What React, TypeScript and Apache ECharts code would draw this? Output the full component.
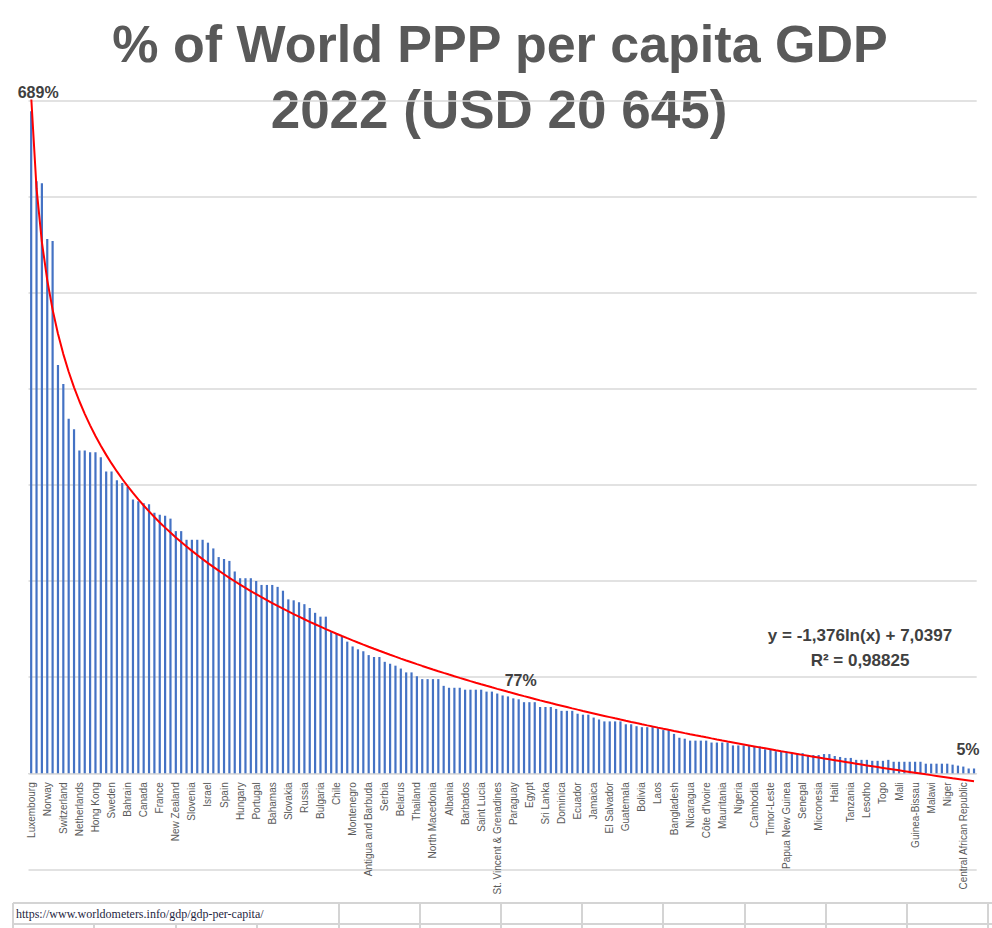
import React, { useEffect, useRef } from "react";
import * as echarts from "echarts";

const countries: string[] = [
  "Luxembourg", "Singapore", "Ireland", "Norway", "Qatar", "United States", "Switzerland", "Brunei", "Denmark",
  "Netherlands", "Iceland", "Austria", "Hong Kong", "Belgium", "Germany", "Sweden", "Australia", "Finland",
  "Bahrain", "Saudi Arabia", "Malta", "Canada", "Oman", "United Kingdom", "France", "South Korea", "Japan",
  "New Zealand", "Italy", "Cyprus", "Slovenia", "Czech Republic", "Lithuania", "Israel", "Estonia", "Puerto Rico",
  "Spain", "Poland", "Kuwait", "Hungary", "Latvia", "Croatia", "Portugal", "Romania", "Greece",
  "Bahamas", "Seychelles", "Turkey", "Slovakia", "Panama", "Kazakhstan", "Russia", "Malaysia", "Uruguay",
  "Bulgaria", "Mauritius", "Argentina", "Chile", "Trinidad and Tobago", "Maldives", "Montenegro", "Costa Rica", "Dominican Republic",
  "Antigua and Barbuda", "Mexico", "Georgia", "Serbia", "China", "Turkmenistan", "Belarus", "Botswana", "Azerbaijan",
  "Thailand", "Armenia", "Gabon", "North Macedonia", "Brazil", "Colombia", "Albania", "Saint Kitts and Nevis", "Grenada",
  "Barbados", "Bosnia and Herzegovina", "Moldova", "Saint Lucia", "Iran", "Iraq", "St. Vincent & Grenadines", "Peru", "Indonesia",
  "Paraguay", "South Africa", "Mongolia", "Egypt", "Suriname", "Ukraine", "Sri Lanka", "Libya", "Equatorial Guinea",
  "Dominica", "Algeria", "Tunisia", "Ecuador", "Vietnam", "Fiji", "Jamaica", "Guyana", "Belize",
  "El Salvador", "Jordan", "Namibia", "Guatemala", "Eswatini", "Uzbekistan", "Bolivia", "Philippines", "Morocco",
  "Laos", "India", "Bhutan", "Bangladesh", "Cabo Verde", "Ghana", "Nicaragua", "Angola", "Samoa",
  "Côte d'Ivoire", "Kyrgyzstan", "Honduras", "Mauritania", "Tonga", "Pakistan", "Nigeria", "Kenya", "Djibouti",
  "Cambodia", "Myanmar", "Nepal", "Timor-Leste", "Cameroon", "Zambia", "Papua New Guinea", "Benin", "Tajikistan",
  "Senegal", "Guinea", "Tuvalu", "Micronesia", "Uganda", "Zimbabwe", "Haiti", "Ethiopia", "Rwanda",
  "Tanzania", "Gambia", "Burkina Faso", "Lesotho", "Kiribati", "Vanuatu", "Togo", "Sudan", "Yemen",
  "Mali", "Solomon Islands", "Madagascar", "Guinea-Bissau", "Chad", "Sierra Leone", "Malawi", "Liberia", "Mozambique",
  "Niger", "Congo, Dem. Rep.", "Somalia", "Central African Republic", "South Sudan", "Burundi",
];

// % of world PPP GDP per capita
const shareOfWorld: number[] = [
  689, 616, 614, 556, 554, 425, 405, 369, 358,
  336, 336, 334, 334, 329, 314, 314, 305, 302,
  298, 285, 283, 281, 280, 271, 269, 268, 265,
  252, 252, 243, 243, 243, 243, 240, 234, 225,
  223, 221, 210, 203, 203, 203, 200, 196, 196,
  196, 194, 190, 181, 180, 178, 176, 172, 167,
  163, 163, 147, 146, 142, 137, 132, 129, 127,
  123, 121, 121, 116, 114, 112, 109, 105, 105,
  101, 98, 98, 98, 98, 91, 89, 89, 89,
  87, 87, 87, 87, 85, 85, 83, 81, 80,
  78, 77, 74, 74, 74, 69, 69, 69, 67,
  65, 65, 65, 62, 61, 61, 58, 56, 54,
  54, 54, 54, 51, 51, 49, 48, 48, 48,
  47, 45, 45, 41, 37, 36, 34, 34, 34,
  34, 32, 32, 32, 32, 29, 29, 29, 29,
  28, 28, 25, 25, 23, 23, 23, 21, 21,
  21, 19, 19, 19, 20, 20, 18, 17, 16,
  16, 14, 14, 14, 13, 13, 13, 14, 12,
  12, 12, 12, 12, 12, 10, 10, 10, 10,
  10, 9, 8, 7, 5, 5,
];

const labeledBars: number[] = [0, 91, 176];

// Excel logarithmic trend line shown on the chart: y = -1,376 ln(x) + 7,0397
const trendA = -1.376;
const trendB = 7.0397;
const trendText = "y = -1,376ln(x) + 7,0397";
const r2Text = "R² = 0,98825";

const titleLine1 = "% of World PPP per capita GDP";
const titleLine2 = "2022 (USD 20 645)";
const sourceUrl = "https://www.worldometers.info/gdp/gdp-per-capita/";

const yTicks = { min: -100, max: 700, interval: 100 };

export default function App() {
  const ref = useRef<HTMLDivElement>(null);

  useEffect(() => {
    if (!ref.current) return;
    const chart = echarts.init(ref.current, undefined, { renderer: "svg" });

    const labelOffsets: Record<number, number[]> = { 0: [7, 0], 91: [2, 0], 176: [-6, 0] };
    const barData = shareOfWorld.map((v, i) =>
      labeledBars.includes(i)
        ? {
            value: v,
            label: {
              show: true,
              position: "top",
              distance: 11,
              offset: labelOffsets[i],
              formatter: "{c}%",
              fontSize: 16,
              fontWeight: "bold",
              fontFamily: "Liberation Sans",
              color: "#404040",
            },
          }
        : v
    );
    const trendData = shareOfWorld.map((_, i) => 100 * (trendA * Math.log(i + 1) + trendB));

    const gridTop = 100.6;
    const gridBottomPx = 869.4;
    const unitPx = (gridBottomPx - gridTop) / (yTicks.max - yTicks.min);
    const zeroPx = gridTop + yTicks.max * unitPx;
    const labelMargin = -(gridBottomPx - zeroPx) + 9;

    const cellCols: number[] = [13, 94, 176, 257, 339, 420, 501, 582, 663, 745, 826, 907, 988];
    const gridColor = "#D4D4D4";
    const graphics: any[] = [
      {
        type: "text",
        x: 500,
        y: 44,
        style: {
          text: titleLine1,
          fill: "#595959",
          font: "bold 52px 'Liberation Sans', Arial, sans-serif",
          textAlign: "center",
          textVerticalAlign: "middle",
        },
      },
      {
        type: "text",
        x: 499,
        y: 109,
        style: {
          text: titleLine2,
          fill: "#595959",
          font: "bold 53px 'Liberation Sans', Arial, sans-serif",
          textAlign: "center",
          textVerticalAlign: "middle",
        },
      },
      {
        type: "text",
        x: 860,
        y: 635,
        style: {
          text: trendText,
          fill: "#404040",
          font: "bold 17px 'Liberation Sans', Arial, sans-serif",
          textAlign: "center",
          textVerticalAlign: "middle",
        },
      },
      {
        type: "text",
        x: 860,
        y: 660,
        style: {
          text: r2Text,
          fill: "#404040",
          font: "bold 17px 'Liberation Sans', Arial, sans-serif",
          textAlign: "center",
          textVerticalAlign: "middle",
        },
      },
      {
        type: "line",
        shape: { x1: 13, y1: 903, x2: 992, y2: 903 },
        style: { stroke: gridColor, lineWidth: 2 },
      },
      {
        type: "line",
        shape: { x1: 13, y1: 924, x2: 992, y2: 924 },
        style: { stroke: gridColor, lineWidth: 2 },
      },
      ...cellCols.map((x, k) => ({
        type: "line",
        shape: { x1: x, y1: k === 0 || x >= 339 ? 903 : 924, x2: x, y2: 928 },
        style: { stroke: gridColor, lineWidth: 2 },
      })),
      {
        type: "text",
        x: 16,
        y: 914,
        style: {
          text: sourceUrl,
          fill: "#1F1F3F",
          font: "12px 'Liberation Serif', 'DejaVu Serif', serif",
          textAlign: "left",
          textVerticalAlign: "middle",
        },
      },
    ];

    chart.setOption({
      animation: false,
      backgroundColor: "#ffffff",
      grid: {
        left: 28.5,
        right: 15.3,
        top: gridTop,
        bottom: 928 - gridBottomPx,
        containLabel: false,
        outerBoundsMode: "none",
      },
      xAxis: {
        type: "category",
        data: countries,
        boundaryGap: true,
        axisLine: { show: true, onZero: true, lineStyle: { color: "#D9D9D9", width: 1 } },
        axisTick: { show: false },
        axisLabel: {
          interval: 2,
          rotate: 90,
          fontSize: 10,
          margin: labelMargin,
          color: "#595959",
          fontFamily: "Liberation Sans",
        },
        splitLine: { show: false },
      },
      yAxis: {
        type: "value",
        min: yTicks.min,
        max: yTicks.max,
        interval: yTicks.interval,
        axisLabel: { show: false },
        axisLine: { show: false },
        axisTick: { show: false },
        splitLine: { show: true, lineStyle: { color: "#D9D9D9", width: 1.5 } },
      },
      series: [
        {
          type: "bar",
          data: barData,
          barWidth: 2.2,
          itemStyle: { color: "#4472C4" },
          z: 2,
        },
        {
          type: "line",
          data: trendData,
          symbol: "none",
          smooth: false,
          lineStyle: { color: "#FF0000", width: 2 },
          z: 3,
          silent: true,
        },
      ],
      graphic: graphics,
    });

    return () => chart.dispose();
  }, []);

  return (
    <div
      ref={ref}
      style={{ position: "fixed", left: 0, top: 0, width: 992, height: 928, background: "#fff" }}
    />
  );
}
